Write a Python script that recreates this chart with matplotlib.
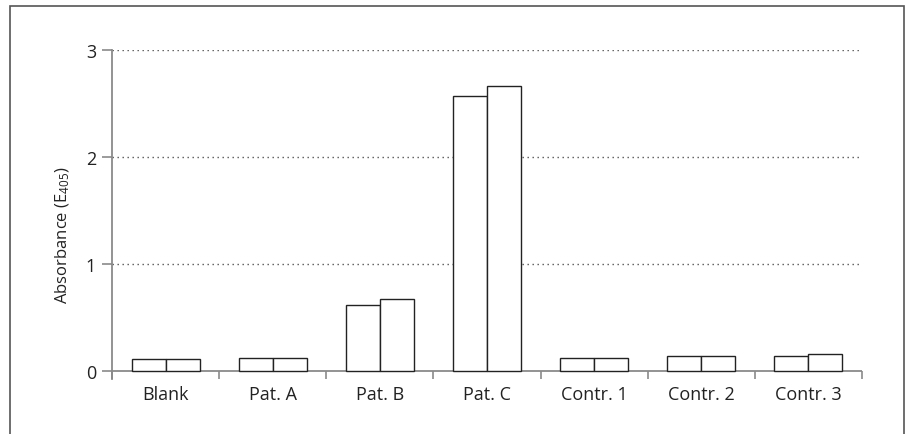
import matplotlib as mpl

mpl.use('Agg')

import matplotlib.pyplot as plt
import matplotlib.patches as patches
import numpy as np

plt.rcParams['font.family'] = ['Open Sans', 'DejaVu Sans']
plt.rcParams['mathtext.fontset'] = 'custom'
plt.rcParams['mathtext.rm'] = 'Open Sans'

#   values
categories = ['Blank', 'Pat. A', 'Pat. B', 'Pat. C', 'Contr. 1', 'Contr. 2', 'Contr. 3']
run_1 = [0.11, 0.12, 0.62, 2.57, 0.12, 0.14, 0.14]
run_2 = [0.11, 0.12, 0.67, 2.66, 0.12, 0.14, 0.155]
y_ticks = [0, 1, 2, 3]

axis_grey = '#8a8a8a'
bar_edge = '#222222'
text_col = '#222222'


def main():
    fig = plt.figure(figsize=(9.06, 4.35), dpi=100)
    ax = fig.add_axes([112 / 906, 55 / 435, 750 / 906, 329 / 435])

    ind = np.arange(len(categories))
    width = 0.317
    ax.bar(ind + 0.5 - width / 2, run_1, width, facecolor='white', edgecolor=bar_edge, linewidth=1.0, zorder=3)
    ax.bar(ind + 0.5 + width / 2, run_2, width, facecolor='white', edgecolor=bar_edge, linewidth=1.0, zorder=3)

    ax.set_xlim(0, len(categories))
    ax.set_ylim(-0.075, 3)

    # dotted grid + baseline
    for y in y_ticks[1:]:
        ax.axhline(y, color='#555555', linestyle=(0, (1, 2.6)), linewidth=1.0, zorder=1)
    ax.axhline(0, color=axis_grey, linewidth=1.3, zorder=2)

    for s in ['top', 'right', 'bottom']:
        ax.spines[s].set_visible(False)
    ax.spines['left'].set_color(axis_grey)
    ax.spines['left'].set_linewidth(1.3)

    ax.set_yticks(y_ticks)
    ax.tick_params(axis='y', direction='out', length=7, width=1.2, color=axis_grey,
                   labelsize=13, pad=4.5, labelcolor=text_col)

    # boundary ticks (major), labels at centres (minor)
    ax.set_xticks(np.arange(len(categories) + 1))
    ax.set_xticklabels([])
    ax.set_xticks(ind + 0.5, minor=True)
    ax.set_xticklabels(categories, minor=True)
    ax.tick_params(axis='x', which='major', direction='in', length=5.8, width=1.2, color=axis_grey)
    ax.tick_params(axis='x', which='minor', length=0, labelsize=13, pad=4, labelcolor=text_col)

    ax.set_ylabel('Absorbance (E$\\mathregular{_{405}}$)', fontsize=12, color=text_col)
    ax.yaxis.set_label_coords(-0.054, 0.44)

    # frame around the figure
    frame = patches.Rectangle((10 / 906, -0.1), 894 / 906, (428 / 435) + 0.1, transform=fig.transFigure,
                              fill=False, edgecolor='#555555', linewidth=1.2)
    fig.patches.append(frame)

    plt.savefig('out.png', dpi=100)
    plt.close()


if __name__ == '__main__':
    main()
